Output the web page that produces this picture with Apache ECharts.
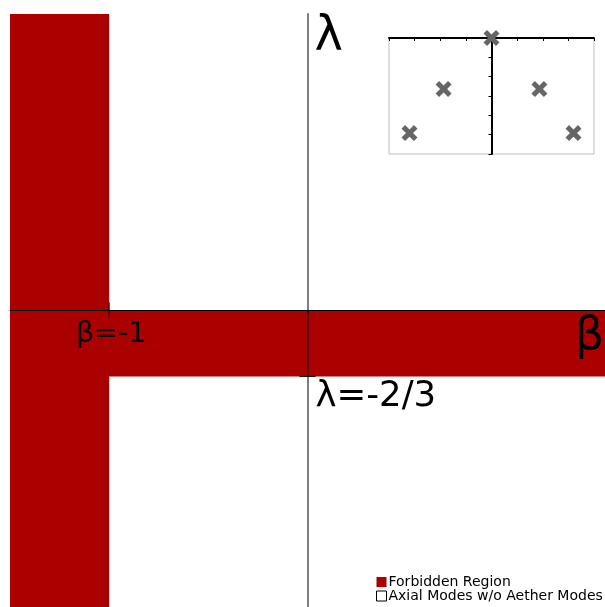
<!DOCTYPE html>
<html>
<head>
<meta charset="utf-8">
<script src="https://cdn.jsdelivr.net/npm/echarts@6/dist/echarts.min.js"></script>
<style>html,body{margin:0;padding:0;background:#fff}#c{width:605px;height:607px}</style>
</head>
<body>
<div id="c"></div>
<script>
// Main diagram data
const betaRange = [-1.5, 1.5];
const lambdaRange = [-3, 3];
const regionBetaMin = [-1.5, -1.5];
const regionBetaMax = [-1, 1.5];
const regionLambdaMin = [-3, -2 / 3];
const regionLambdaMax = [3, 0];
const betaTick = -1;
const lambdaTick = -2 / 3;
const betaTickLabel = 'β=-1';
const lambdaTickLabel = 'λ=-2/3';
const betaAxisName = 'β';
const lambdaAxisName = 'λ';
// Inset data
const insetX = [-3.2, -1.87, 0, 1.87, 3.2];
const insetY = [-4.92, -2.64, 0, -2.64, -4.92];
const legendNames = ['Forbidden Region', 'Axial Modes w/o Aether Modes'];

const RED = '#aa0000';
const FONT = 'DejaVu Sans';

const regions = regionBetaMin.map((b, i) => [b, regionBetaMax[i], regionLambdaMin[i], regionLambdaMax[i]]);
const insetData = insetX.map((x, i) => [x, insetY[i]]);

const chart = echarts.init(document.getElementById('c'));
const xPath = 'path://M0,2.2 L2.2,0 L5,2.8 L7.8,0 L10,2.2 L7.2,5 L10,7.8 L7.8,10 L5,7.2 L2.2,10 L0,7.8 L2.8,5 Z';

chart.setOption({
  animation: false,
  backgroundColor: '#fff',
  grid: [
    { left: 10, top: 14, width: 595, height: 593, show: false },
    { left: 389, top: 38, width: 205, height: 116, show: true, borderColor: '#c0c0c0', borderWidth: 1, backgroundColor: '#fff', z: 20 }
  ],
  xAxis: [
    { gridIndex: 0, type: 'value', min: betaRange[0], max: betaRange[1], z: 10,
      axisLine: { onZero: true, lineStyle: { color: '#000', width: 1 } },
      axisTick: { show: false }, axisLabel: { show: false }, splitLine: { show: false } },
    { gridIndex: 1, type: 'value', min: -4, max: 4, interval: 1, position: 'top', z: 22,
      axisLine: { onZero: false, lineStyle: { color: '#000', width: 2 } },
      axisTick: { inside: true, length: 3, lineStyle: { color: '#000', width: 1 } },
      axisLabel: { show: false }, splitLine: { show: false } }
  ],
  yAxis: [
    { gridIndex: 0, type: 'value', min: lambdaRange[0], max: lambdaRange[1], z: 10,
      axisLine: { onZero: true, lineStyle: { color: 'rgba(0,0,0,0.5)', width: 2 } },
      axisTick: { show: false }, axisLabel: { show: false }, splitLine: { show: false } },
    { gridIndex: 1, type: 'value', min: -6, max: 0, interval: 1, z: 22,
      axisLine: { onZero: true, lineStyle: { color: '#000', width: 2 } },
      axisTick: { inside: false, length: 3, lineStyle: { color: '#000', width: 1 } },
      axisLabel: { show: false }, splitLine: { show: false } }
  ],
  legend: {
    orient: 'vertical', left: 376, top: 575, itemWidth: 10, itemHeight: 10, itemGap: 0,
    padding: 0,
    textStyle: { fontFamily: FONT, fontSize: 14, color: '#000', lineHeight: 13, padding: [0, 0, 0, -3] },
    data: [
      { name: legendNames[0], icon: 'rect', itemStyle: { color: RED, borderWidth: 0 } },
      { name: legendNames[1], icon: 'rect', itemStyle: { color: '#fff', borderColor: '#000', borderWidth: 1 } }
    ]
  },
  series: [
    {
      name: legendNames[0], type: 'custom', xAxisIndex: 0, yAxisIndex: 0, z: 2,
      itemStyle: { color: RED },
      data: regions,
      renderItem: function (params, api) {
        const p1 = api.coord([api.value(0), api.value(3)]);
        const p2 = api.coord([api.value(1), api.value(2)]);
        return { type: 'rect', shape: { x: p1[0], y: p1[1], width: p2[0] - p1[0], height: p2[1] - p1[1] },
          style: { fill: RED } };
      }
    },
    {
      name: legendNames[1], type: 'custom', xAxisIndex: 0, yAxisIndex: 0,
      itemStyle: { color: '#fff', borderColor: '#000', borderWidth: 1 },
      data: [],
      renderItem: function () { return null; }
    },
    {
      type: 'custom', xAxisIndex: 0, yAxisIndex: 0, z: 12, silent: true,
      data: [[betaTick, 0, 0], [0, lambdaTick, 1]],
      renderItem: function (params, api) {
        const p = api.coord([api.value(0), api.value(1)]);
        const vertical = api.value(2) === 0;
        const shape = vertical ? { x1: p[0], y1: p[1] - 8, x2: p[0], y2: p[1] + 7 }
                               : { x1: p[0] - 8, y1: p[1], x2: p[0] + 8, y2: p[1] };
        return { type: 'line', shape: shape, style: { stroke: '#000', lineWidth: 1 } };
      }
    },
    {
      type: 'custom', xAxisIndex: 0, yAxisIndex: 0, z: 12, silent: true,
      data: [
        [betaTick, 0, 0], [0, lambdaTick, 1], [0, lambdaRange[1], 2], [betaRange[1], 0, 3]
      ],
      renderItem: function (params, api) {
        const p = api.coord([api.value(0), api.value(1)]);
        const k = api.value(2);
        const cfg = [
          { t: betaTickLabel, dx: 2, dy: 24, size: 28.5, align: 'center' },
          { t: lambdaTickLabel, dx: 8, dy: 20, size: 35.5, align: 'left' },
          { t: lambdaAxisName, dx: 7, dy: 24, size: 48, align: 'left' },
          { t: betaAxisName, dx: -1, dy: 27, size: 46, align: 'right' }
        ][k];
        return { type: 'text', x: p[0] + cfg.dx, y: p[1] + cfg.dy,
          style: { text: cfg.t, font: cfg.size + 'px "' + FONT + '"', fill: '#000', align: cfg.align, verticalAlign: 'middle' } };
      }
    },
    {
      type: 'scatter', xAxisIndex: 1, yAxisIndex: 1, z: 25,
      symbol: xPath, symbolSize: 16,
      itemStyle: { color: '#666666', opacity: 1 },
      data: insetData
    }
  ]
});
</script>
</body>
</html>
